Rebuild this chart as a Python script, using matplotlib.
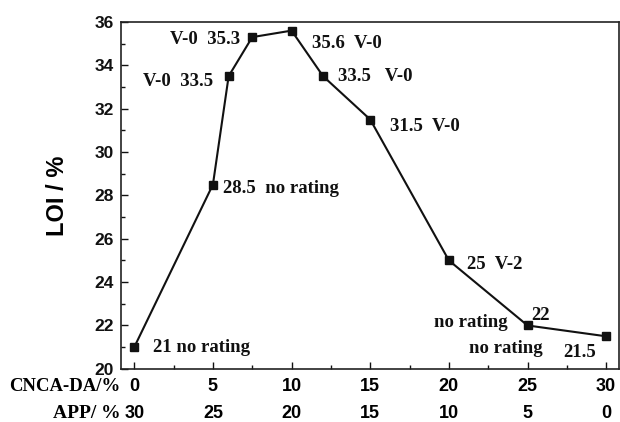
import matplotlib.pyplot as plt
from matplotlib.ticker import MultipleLocator

# CNCA-DA loading (%) and the matching LOI values (%)
cnca = [0, 5, 6, 7.5, 10, 12, 15, 20, 25, 30]
loi = [21, 28.5, 33.5, 35.3, 35.6, 33.5, 31.5, 25, 22, 21.5]

x_ticks = [0, 5, 10, 15, 20, 25, 30]
app_labels = ['30', '25', '20', '15', '10', '5', '0']

# text next to each point: (point index, label, offset in points, alignment)
notes = [
    (0, '21 no rating', (13.5, -0.5), 'left'),
    (1, '28.5  no rating', (7.5, -2.5), 'left'),
    (2, 'V-0  33.5', (-11, -4), 'right'),
    (3, 'V-0  35.3', (-9, -1.5), 'right'),
    (4, '35.6  V-0', (15, -9), 'left'),
    (5, '33.5   V-0', (11, -0.5), 'left'),
    (6, '31.5  V-0', (14, -5), 'left'),
    (7, '25  V-2', (13, -3), 'left'),
    (8, '22', (2.5, 7), 'left'),
    (8, 'no rating', (-14, 2), 'right'),
    (9, 'no rating', (-46, -9), 'right'),
    (9, '21.5', (-7, -12), 'right'),
]

serif = ['Liberation Serif', 'DejaVu Serif']
sans = ['Liberation Sans', 'DejaVu Sans']

fig = plt.figure(figsize=(6.2, 4.22), dpi=100)
ax = fig.add_axes([0.195, 0.126, 0.803, 0.822])

ax.plot(cnca, loi, color='#111111', lw=1.5, marker='s', ms=5.5,
        markerfacecolor='#111111', markeredgecolor='#111111')

for i, txt, off, ha in notes:
    ax.annotate(txt, (cnca[i], loi[i]), xytext=off, textcoords='offset points',
                ha=ha, va='center', fontsize=13.5, fontweight='bold',
                family=serif, color='#111111')

ax.set_xlim(-0.85, 30.8)
ax.set_ylim(20, 36)
ax.set_xticks(x_ticks)
ax.xaxis.set_minor_locator(MultipleLocator(2.5))
ax.yaxis.set_major_locator(MultipleLocator(2))
ax.yaxis.set_minor_locator(MultipleLocator(1))
ax.tick_params(which='both', direction='in', width=1, colors='#111111')
ax.tick_params(which='major', length=5, pad=5)
ax.tick_params(which='minor', length=3)
ax.tick_params(axis='x', labelbottom=False)
ax.tick_params(axis='y', labelsize=12.5)
for lab in ax.get_yticklabels():
    lab.set_fontweight('bold')
    lab.set_family(sans)
for sp in ax.spines.values():
    sp.set_linewidth(1.2)
    sp.set_color('#222222')

# two rows of x labels: CNCA-DA content and the APP content that goes with it
row1, row2 = -12.5, -32
for x, app in zip(x_ticks, app_labels):
    ax.annotate(str(x), (x, 0), xycoords=('data', 'axes fraction'),
                xytext=(0, row1), textcoords='offset points', ha='center',
                va='center', fontsize=13, fontweight='bold', family=sans)
    ax.annotate(app, (x, 0), xycoords=('data', 'axes fraction'),
                xytext=(0, row2), textcoords='offset points', ha='center',
                va='center', fontsize=13, fontweight='bold', family=sans)
ax.annotate('CNCA-DA/%', (0, 0), xycoords='axes fraction', xytext=(-0.5, row1),
            textcoords='offset points', ha='right', va='center', fontsize=13.5,
            fontweight='bold', family=serif)
ax.annotate('APP/ %', (0, 0), xycoords='axes fraction', xytext=(-0.5, row2),
            textcoords='offset points', ha='right', va='center', fontsize=14,
            fontweight='bold', family=serif)

ax.set_ylabel('LOI / %', fontsize=17, fontweight='bold', family=sans, labelpad=18)

fig.savefig('out.png', dpi=100)
